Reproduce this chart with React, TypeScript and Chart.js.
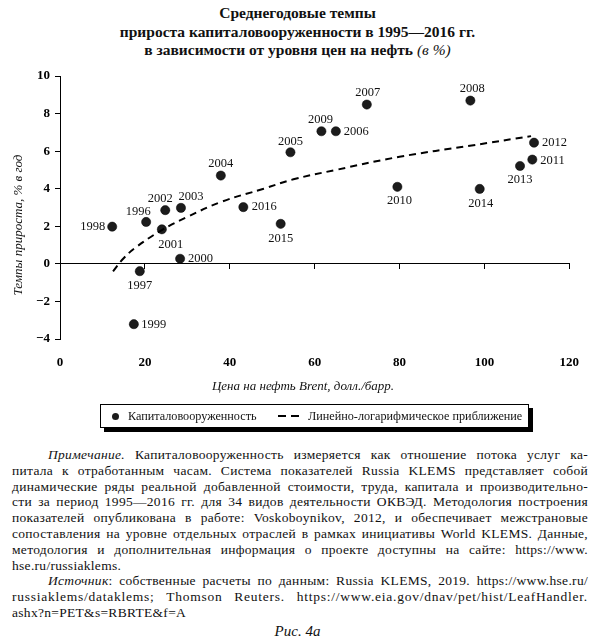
import React, { useEffect, useRef } from "react";
import { Chart, registerables } from "chart.js";

Chart.register(...registerables);

// годы наблюдений
const years = [
  "1996", "1997", "1998", "1999", "2000", "2001", "2002", "2003", "2004", "2005", "2006",
  "2007", "2008", "2009", "2010", "2011", "2012", "2013", "2014", "2015", "2016",
];
// цена Brent, долл./барр.
const oilPrice = [
  20.3, 18.8, 12.3, 17.4, 28.3, 24.0, 24.8, 28.5, 37.9, 54.3, 65.0,
  72.3, 96.7, 61.6, 79.5, 111.3, 111.7, 108.4, 98.9, 52.0, 43.2,
];
// темпы прироста капиталовооруженности, % в год
const capitalGrowth = [
  2.23, -0.39, 1.98, -3.21, 0.27, 1.84, 2.86, 2.98, 4.7, 5.94, 7.06,
  8.48, 8.69, 7.06, 4.1, 5.55, 6.45, 5.21, 3.99, 2.13, 3.02,
];
// линейно-логарифмическое приближение
const trendPrice = [12.5, 15, 18, 24, 30, 38, 48, 55, 65, 80, 97, 111];
const trendGrowth = [-0.4, 0.3, 0.9, 1.8, 2.5, 3.3, 4.0, 4.5, 5.0, 5.7, 6.3, 6.8];

const SERIF = "'Liberation Serif', 'Times New Roman', serif";

// где подписывать год: выравнивание, сдвиг по x, сдвиг по y
const labelPlace: Record<string, [CanvasTextAlign, number, number]> = {
  "1996": ["center", -8, -10],
  "1997": ["center", 0, 14.5],
  "1998": ["right", -7, 0.5],
  "1999": ["left", 7.5, 0.5],
  "2000": ["left", 8, 0],
  "2001": ["center", 9, 15],
  "2002": ["center", -5, -11],
  "2003": ["center", 10, -11.5],
  "2004": ["center", 0, -11.5],
  "2005": ["center", 0, -11],
  "2006": ["left", 8, 0.5],
  "2007": ["center", 1, -11.5],
  "2008": ["center", 2, -11.5],
  "2009": ["center", -1, -12],
  "2010": ["center", 2, 13.7],
  "2011": ["left", 8, 1],
  "2012": ["left", 8, 0.5],
  "2013": ["center", 0, 13.5],
  "2014": ["center", 1, 15],
  "2015": ["center", 0, 14.5],
  "2016": ["left", 8.5, 0],
};

const yearLabels = {
  id: "yearLabels",
  afterDatasetsDraw(chart: any) {
    const meta = chart.getDatasetMeta(1);
    const ctx = chart.ctx;
    ctx.save();
    ctx.font = `12.5px ${SERIF}`;
    ctx.fillStyle = "#111";
    ctx.textBaseline = "middle";
    meta.data.forEach((pt: any, i: number) => {
      const [align, dx, dy] = labelPlace[years[i]] || ["left", 8, 0];
      ctx.textAlign = align;
      ctx.fillText(years[i], pt.x + dx, pt.y + dy);
    });
    ctx.restore();
  },
};

function ScatterChart() {
  const canvasRef = useRef<HTMLCanvasElement>(null);

  useEffect(() => {
    if (!canvasRef.current) return;
    const chart = new Chart(canvasRef.current, {
      type: "scatter",
      data: {
        datasets: [
          {
            label: "Линейно-логарифмическое приближение",
            data: trendPrice.map((x, i) => ({ x, y: trendGrowth[i] })),
            showLine: true,
            borderColor: "#000",
            borderWidth: 2,
            borderDash: [7, 5],
            pointRadius: 0,
            tension: 0.4,
          },
          {
            label: "Капиталовооруженность",
            data: oilPrice.map((x, i) => ({ x, y: capitalGrowth[i] })),
            backgroundColor: "#1c1c1c",
            borderColor: "#000",
            borderWidth: 0.5,
            pointRadius: 4.6,
          },
        ],
      },
      options: {
        animation: false,
        responsive: true,
        maintainAspectRatio: false,
        layout: { padding: { top: 16, right: 15, left: 0, bottom: 0 } },
        plugins: { legend: { display: false }, tooltip: { enabled: false } },
        scales: {
          x: {
            type: "linear",
            min: 0,
            max: 120,
            position: { y: 0 } as any,
            ticks: { display: false, stepSize: 20 },
            grid: { drawOnChartArea: false, drawTicks: true, tickLength: 5, color: "#000" },
            border: { color: "#000", width: 1 },
          },
          x2: {
            type: "linear",
            min: 0,
            max: 120,
            position: "bottom",
            ticks: {
              stepSize: 20,
              padding: 16,
              color: "#000",
              maxRotation: 0,
              autoSkip: false,
              font: { family: SERIF, size: 13, weight: "bold" },
            },
            grid: { display: false, drawTicks: false },
            border: { display: false },
            afterFit: (s: any) => {
              s.height = 41;
            },
          },
          y: {
            type: "linear",
            min: -4,
            max: 10,
            ticks: {
              stepSize: 2,
              padding: 5,
              color: "#000",
              font: { family: SERIF, size: 13, weight: "bold" },
              callback: (v: any) => String(v).replace("-", "−"),
            },
            grid: { drawOnChartArea: false, drawTicks: true, tickLength: 5, color: "#000" },
            border: { color: "#000", width: 1 },
            afterFit: (s: any) => {
              s.width = 60;
            },
          },
        },
      },
      plugins: [yearLabels],
    });
    return () => chart.destroy();
  }, []);

  return <canvas ref={canvasRef} />;
}

const noteLines = [
  "питала к отработанным часам. Система показателей Russia KLEMS представляет собой",
  "динамические ряды реальной добавленной стоимости, труда, капитала и производительно-",
  "сти за период 1995—2016 гг. для 34 видов деятельности ОКВЭД. Методология построения",
  "показателей опубликована в работе: Voskoboynikov, 2012, и обеспечивает межстрановые",
  "сопоставления на уровне отдельных отраслей в рамках инициативы World KLEMS. Данные,",
  "методология и дополнительная информация о проекте доступны на сайте: https://www.",
];

export default function App() {
  useEffect(() => {
    document.body.style.margin = "0";
  }, []);

  const lineStyle: React.CSSProperties = {
    height: 15.8,
    lineHeight: "15.8px",
    whiteSpace: "nowrap",
    textAlign: "justify",
    textAlignLast: "justify",
  };

  return (
    <div
      style={{
        position: "relative",
        width: 595,
        height: 639,
        background: "#fff",
        color: "#111",
        fontFamily: SERIF,
        overflow: "hidden",
      }}
    >
      <div
        style={{
          position: "absolute",
          top: 4,
          left: 0,
          width: 595,
          textAlign: "center",
          fontWeight: "bold",
          fontSize: 15.5,
          lineHeight: "18.6px",
        }}
      >
        <div>Среднегодовые темпы</div>
        <div>прироста капиталовооруженности в 1995—2016 гг.</div>
        <div>
          в зависимости от уровня цен на нефть{" "}
          <span style={{ fontStyle: "italic", fontWeight: "normal" }}>(в %)</span>
        </div>
      </div>

      <div style={{ position: "absolute", left: 0, top: 60, width: 595, height: 320 }}>
        <ScatterChart />
      </div>

      <div
        style={{
          position: "absolute",
          left: 18 - 100,
          top: 225 - 9,
          width: 200,
          height: 18,
          lineHeight: "18px",
          textAlign: "center",
          fontStyle: "italic",
          fontSize: 13,
          transform: "rotate(-90deg)",
        }}
      >
        Темпы прироста, % в год
      </div>

      <div
        style={{
          position: "absolute",
          left: 303 - 150,
          top: 377,
          width: 300,
          textAlign: "center",
          fontStyle: "italic",
          fontSize: 13,
          lineHeight: "18px",
        }}
      >
        Цена на нефть Brent, долл./барр.
      </div>

      <div
        style={{
          position: "absolute",
          left: 100,
          top: 404,
          width: 427,
          height: 22,
          border: "1px solid #000",
          boxShadow: "4px 4px 0 #000",
          background: "#fff",
          fontSize: 12.2,
          whiteSpace: "nowrap",
        }}
      >
        <span
          style={{
            position: "absolute",
            left: 11,
            top: 7.5,
            width: 7,
            height: 7,
            borderRadius: "50%",
            background: "#1c1c1c",
          }}
        />
        <span style={{ position: "absolute", left: 27, top: 2, lineHeight: "18px" }}>
          Капиталовооруженность
        </span>
        <span style={{ position: "absolute", left: 177, top: 10, width: 8, height: 2, background: "#000" }} />
        <span style={{ position: "absolute", left: 190, top: 10, width: 8, height: 2, background: "#000" }} />
        <span style={{ position: "absolute", left: 207, top: 2, lineHeight: "18px" }}>
          Линейно-логарифмическое приближение
        </span>
      </div>

      <div
        style={{
          position: "absolute",
          left: 12,
          top: 447,
          width: 576,
          fontSize: 13.5,
          letterSpacing: "0.3px",
        }}
      >
        <div style={{ ...lineStyle, paddingLeft: 36 }}>
          <i>Примечание.</i> Капиталовооруженность измеряется как отношение потока услуг ка-
        </div>
        {noteLines.map((t) => (
          <div key={t} style={lineStyle}>
            {t}
          </div>
        ))}
        <div style={{ ...lineStyle, textAlign: "left", textAlignLast: "left" }}>hse.ru/russiaklems.</div>
        <div style={{ ...lineStyle, paddingLeft: 36 }}>
          <i>Источник</i>: собственные расчеты по данным: Russia KLEMS, 2019. https://www.hse.ru/
        </div>
        <div style={{ ...lineStyle, letterSpacing: "0.75px" }}>
          russiaklems/dataklems; Thomson Reuters. https://www.eia.gov/dnav/pet/hist/LeafHandler.
        </div>
        <div style={{ ...lineStyle, textAlign: "left", textAlignLast: "left" }}>ashx?n=PET&amp;s=RBRTE&amp;f=A</div>
      </div>

      <div
        style={{
          position: "absolute",
          left: 0,
          top: 622,
          width: 595,
          textAlign: "center",
          fontStyle: "italic",
          fontSize: 15,
          lineHeight: "18px",
        }}
      >
        Рис. 4а
      </div>
    </div>
  );
}
